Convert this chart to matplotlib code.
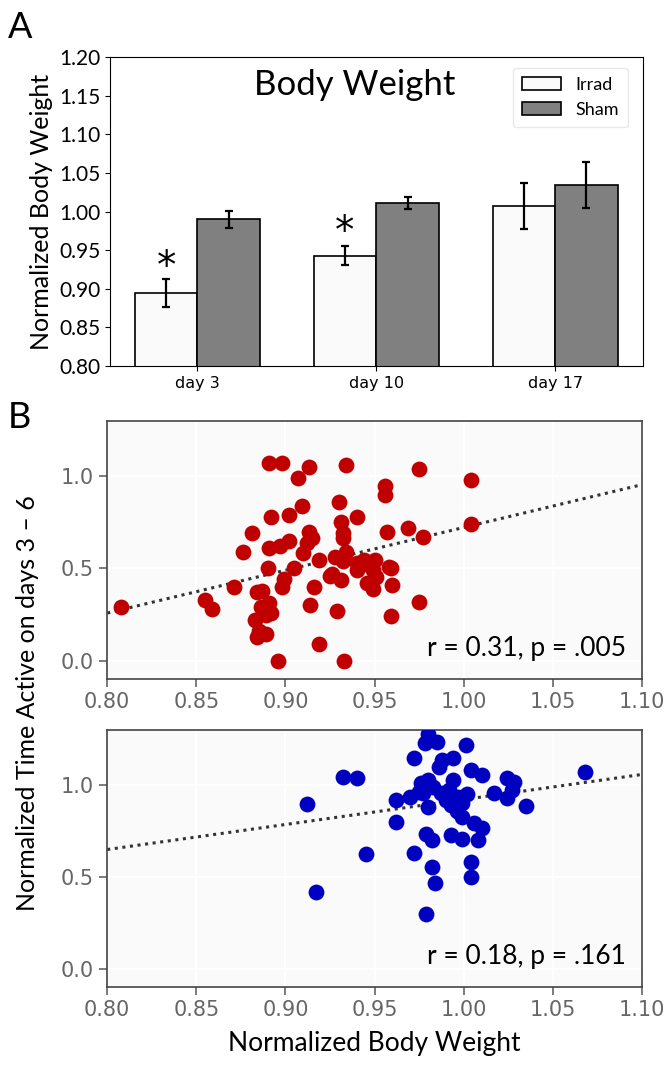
import matplotlib
matplotlib.use("Agg")
import matplotlib.pyplot as plt
import numpy as np

# bar chart data (panel A)
days = ["day 3", "day 10", "day 17"]
irrad_mean = [0.895, 0.943, 1.007]
irrad_err = [0.018, 0.012, 0.030]
sham_mean = [0.990, 1.011, 1.034]
sham_err = [0.011, 0.008, 0.030]
star_y = [0.940, 0.985]

# scatter data (panel B, top, red)
red_x = [0.808, 0.855, 0.859, 0.871, 0.876, 0.881, 0.884, 0.883, 0.884, 0.889,
         0.886, 0.891, 0.892, 0.891, 0.898, 0.892, 0.891, 0.890, 0.897, 0.902,
         0.902, 0.899, 0.898, 0.896, 0.907, 0.913, 0.909, 0.905, 0.910, 0.913,
         0.915, 0.919, 0.916, 0.914, 0.919, 0.925, 0.929, 0.931, 0.930, 0.931,
         0.932, 0.932, 0.934, 0.934, 0.932, 0.940, 0.940, 0.940, 0.933, 0.944,
         0.949, 0.950, 0.949, 0.951, 0.956, 0.956, 0.957, 0.959, 0.960, 0.959,
         0.969, 0.975, 0.977, 0.975, 1.004, 1.004, 0.887, 0.889, 0.926, 0.946,
         0.958, 0.912, 0.885, 0.947, 0.928]
red_y = [0.29, 0.33, 0.28, 0.40, 0.59, 0.69, 0.37, 0.22, 0.13, 0.145,
         0.29, 0.31, 0.26, 1.07, 1.07, 0.78, 0.61, 0.50, 0.62, 0.65,
         0.79, 0.445, 0.40, 0.0, 0.99, 1.05, 0.84, 0.50, 0.585, 0.70,
         0.665, 0.545, 0.40, 0.30, 0.09, 0.46, 0.27, 0.44, 0.86, 0.75,
         0.69, 0.665, 1.06, 0.59, 0.54, 0.78, 0.53, 0.49, 0.0, 0.545,
         0.49, 0.545, 0.39, 0.455, 0.95, 0.90, 0.70, 0.50, 0.41, 0.24,
         0.72, 1.04, 0.67, 0.32, 0.98, 0.74, 0.38, 0.25, 0.47, 0.42,
         0.51, 0.64, 0.16, 0.52, 0.56]
red_fit_x = [0.80, 1.10]
red_fit_y = [0.258, 0.955]

# scatter data (panel B, bottom, blue)
blue_x = [0.912, 0.917, 0.932, 0.940, 0.945, 0.962, 0.962, 0.972, 0.972, 0.970,
          0.976, 0.977, 0.980, 0.978, 0.985, 0.979, 0.982, 0.982, 0.984, 0.979,
          0.980, 0.980, 0.986, 0.988, 0.994, 0.987, 0.992, 0.994, 0.993, 0.997,
          0.999, 0.999, 0.993, 0.999, 1.001, 1.004, 1.010, 1.006, 1.010, 1.008,
          1.004, 1.004, 1.017, 1.024, 1.024, 1.028, 1.027, 1.035, 1.068, 0.990,
          0.996, 0.983, 1.002, 0.975]
blue_y = [0.895, 0.416, 1.045, 1.036, 0.624, 0.918, 0.80, 1.145, 0.631, 0.936,
          1.009, 0.955, 1.28, 1.227, 1.236, 0.736, 0.70, 0.555, 0.467, 0.30,
          0.88, 1.027, 1.10, 1.136, 1.145, 0.955, 0.973, 1.027, 0.89, 0.936,
          0.90, 0.827, 0.727, 0.709, 1.218, 1.082, 1.055, 0.791, 0.764, 0.70,
          0.582, 0.50, 0.955, 0.927, 1.036, 1.018, 0.973, 0.885, 1.073, 0.92,
          0.86, 0.99, 0.95, 0.96]
blue_fit_x = [0.80, 1.10]
blue_fit_y = [0.649, 1.058]

CAL = ["Lato", "DejaVu Sans"]

fig = plt.figure(figsize=(6.66, 10.69), dpi=100)

# ---- panel A ----
ax = fig.add_axes([0.165, 0.6576, 0.80, 0.289])
x = np.arange(len(days))
w = 0.35
ax.bar(x - w/2, irrad_mean, w, yerr=irrad_err, color="#fafafa", edgecolor="black",
       linewidth=1.2, capsize=3, error_kw=dict(elinewidth=1.6, capthick=1.6), label="Irrad")
ax.bar(x + w/2, sham_mean, w, yerr=sham_err, color="#808080", edgecolor="black",
       linewidth=1.2, capsize=3, error_kw=dict(elinewidth=1.6, capthick=1.6), label="Sham")
for i, sy in enumerate(star_y):
    # star glyph sits above the baseline, so drop the baseline a little
    ax.text(i - w/2, sy - 0.026, "*", ha="center", va="baseline", fontsize=28,
            family="DejaVu Sans")
ax.set_xlim(-0.49, 2.49)
ax.set_ylim(0.80, 1.20)
ax.set_yticks(np.arange(0.80, 1.201, 0.05))
ax.set_yticklabels(["%.2f" % v for v in np.arange(0.80, 1.201, 0.05)], family=CAL, fontsize=15)
ax.set_xticks(x)
ax.set_xticklabels(days, fontsize=11.5)
ax.set_ylabel("Normalized Body Weight", fontsize=18, family=CAL, labelpad=4)
ax.text(0.46, 0.91, "Body Weight", transform=ax.transAxes, ha="center", va="center",
        fontsize=25, family=CAL)
leg = ax.legend(loc="upper right", prop={"family": CAL, "size": 13}, framealpha=1,
                edgecolor="#e8e8e8", handlelength=2.2, borderpad=0.5,
                bbox_to_anchor=(0.99, 0.995))

fig.text(0.012, 0.99, "A", fontsize=26, family=CAL, va="top")
fig.text(0.012, 0.625, "B", fontsize=26, family=CAL, va="top")


def scatter_panel(rect, xs, ys, fx, fy, color, label):
    a = fig.add_axes(rect)
    a.set_facecolor("#fafafa")
    a.grid(True, color="white", linewidth=1.5)
    a.set_axisbelow(True)
    a.plot(fx, fy, linestyle=(0, (1, 1.5)), color="#333333", linewidth=2.2, zorder=2)
    a.scatter(xs, ys, s=130, color=color, zorder=3, linewidths=0)
    a.set_xlim(0.80, 1.10)
    a.set_ylim(-0.1, 1.3)
    a.set_xticks(np.arange(0.80, 1.101, 0.05))
    a.set_xticklabels(["%.2f" % v for v in np.arange(0.80, 1.101, 0.05)])
    a.set_yticks([0.0, 0.5, 1.0])
    a.tick_params(colors="#666666", labelsize=15, length=6, width=1.2)
    for sp in a.spines.values():
        sp.set_color("#444444")
        sp.set_linewidth(1.2)
    a.text(0.97, 0.07, label, transform=a.transAxes, ha="right", va="bottom",
           fontsize=19, family=CAL)
    return a


scatter_panel([0.161, 0.3648, 0.803, 0.2413], red_x, red_y, red_fit_x, red_fit_y,
              "#c00000", "r = 0.31, p = .005")
ax2 = scatter_panel([0.161, 0.0767, 0.803, 0.2404], blue_x, blue_y, blue_fit_x, blue_fit_y,
                    "#0000c0", "r = 0.18, p = .161")
ax2.set_xlabel("Normalized Body Weight", fontsize=19, family=CAL, labelpad=8)

fig.text(0.042, 0.342, "Normalized Time Active on days 3 \u2013 6", rotation=90,
         ha="center", va="center", fontsize=18, family=CAL)

fig.savefig("out.png", dpi=100)
